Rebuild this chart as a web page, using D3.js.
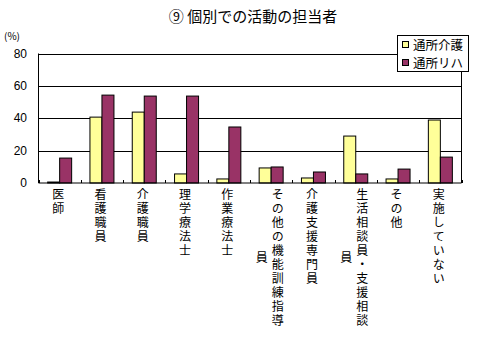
<!DOCTYPE html>
<html><head><meta charset="utf-8">
<script src="https://cdn.jsdelivr.net/npm/d3@7"></script>
<style>
body{margin:0;background:#fff;}
svg{display:block;font-family:"Noto Sans CJK JP","Noto Sans",sans-serif;}
.vt{writing-mode:vertical-rl;text-orientation:upright;}
</style></head>
<body><svg id="c" width="478" height="337"></svg>
<script>
const title = "⑨ 個別での活動の担当者";
const categories = ["医師","看護職員","介護職員","理学療法士","作業療法士","その他の機能訓練指導員","介護支援専門員","生活相談員・支援相談員","その他","実施していない"];
const seriesNames = ["通所介護","通所リハ"];
const tsushoKaigo = [0.6,40.7,43.8,5.6,2.5,9.3,3.1,29.0,2.5,38.9];
const tsushoReha = [15.4,54.3,53.7,53.7,34.6,9.9,6.8,5.6,8.6,16.0];
const yTicks = [0,20,40,60,80];
const colors = ["#FFFF99","#993366"];

const svg = d3.select("#c");
const L=38.5, R=461.5, T=53.5, B=183;
const x = d3.scaleBand().domain(categories).range([L,R]).padding(0);
const bw = x.bandwidth();
const x1 = d3.scaleBand().domain(seriesNames).range([(bw-24)/2,(bw+24)/2]).padding(0);
const y = d3.scaleLinear().domain([0,80]).range([B,T]);

// title
svg.append("text").attr("x",253).attr("y",22).attr("text-anchor","middle")
  .attr("font-size",15).text(title);
svg.append("text").attr("x",4).attr("y",40).attr("font-size",10).text("(%)");

// gridlines
svg.append("g").selectAll("line").data(yTicks.filter(d=>d>0)).join("line")
  .attr("x1",L).attr("x2",R).attr("y1",d=>Math.round(y(d))+0.5).attr("y2",d=>Math.round(y(d))+0.5)
  .attr("stroke","#000").attr("stroke-width",1);
// right border
svg.append("line").attr("x1",R).attr("x2",R).attr("y1",T).attr("y2",B).attr("stroke","#000");

// y labels
svg.append("g").selectAll("text").data(yTicks).join("text")
  .attr("x",27).attr("y",d=>y(d)+4).attr("text-anchor","end")
  .attr("font-size",12).attr("font-family","Liberation Sans, sans-serif").text(d=>d);

// bars
const series = [tsushoKaigo, tsushoReha];
const g = svg.append("g");
categories.forEach((c,i)=>{
  series.forEach((s,j)=>{
    const v = s[i];
    g.append("rect")
      .attr("x", x(c)+x1(seriesNames[j]))
      .attr("y", y(v))
      .attr("width", x1.bandwidth())
      .attr("height", B - y(v))
      .attr("fill", colors[j]).attr("stroke","#000").attr("stroke-width",1);
  });
});

// axes lines
svg.append("line").attr("x1",L).attr("x2",L).attr("y1",T).attr("y2",B).attr("stroke","#000");
svg.append("line").attr("x1",L).attr("x2",R).attr("y1",B).attr("y2",B).attr("stroke","#000");
// ticks (inward)
const tickXs = categories.map(c=>x(c)).concat([R]);
svg.append("g").selectAll("line").data(tickXs).join("line")
  .attr("x1",d=>Math.round(d)+0.5).attr("x2",d=>Math.round(d)+0.5)
  .attr("y1",B).attr("y2",B-3).attr("stroke","#000");

// vertical category labels
const maxPerCol = 10, pitch = 14, colGap = 16, top0 = 188;
categories.forEach(c=>{
  const chars = Array.from(c);
  const cols = [];
  for(let k=0;k<chars.length;k+=maxPerCol) cols.push(chars.slice(k,k+maxPerCol).join(""));
  const cx = x(c)+bw/2 - 1.5;
  const firstLen = Array.from(cols[0]).length;
  const midY = top0 + firstLen*pitch/2;
  cols.forEach((col,ci)=>{
    const colX = cx + ((cols.length-1)/2 - ci)*colGap;
    svg.append("text").attr("class","vt")
      .attr("x",colX).attr("y",midY)
      .attr("text-anchor","middle").attr("font-size",12)
      .attr("letter-spacing",2).text(col);
  });
});

// legend
const lg = svg.append("g");
lg.append("rect").attr("x",397.5).attr("y",35.5).attr("width",71).attr("height",36)
  .attr("fill","#fff").attr("stroke","#000");
seriesNames.forEach((n,i)=>{
  const yy = 45 + i*18;
  lg.append("rect").attr("x",402.5).attr("y",yy-3.5).attr("width",6).attr("height",6)
    .attr("fill",colors[i]).attr("stroke","#000");
  lg.append("text").attr("x",413).attr("y",yy+4.5).attr("font-size",12.5).text(n);
});
</script></body></html>
